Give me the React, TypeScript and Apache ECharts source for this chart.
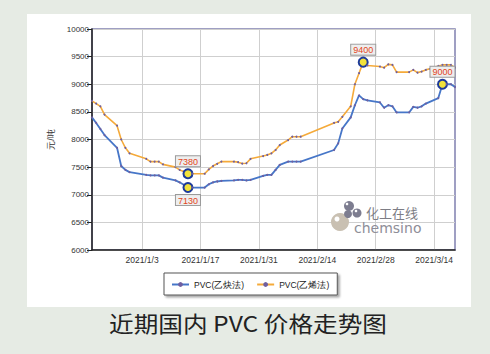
import React, { useEffect, useRef } from "react";
import * as echarts from "echarts";

const xTicks = ["2021/1/3", "2021/1/17", "2021/1/31", "2021/2/14", "2021/2/28", "2021/3/14"];
const firstDay = "2020/12/22";
const lastDay = "2021/3/19";

const acetyleneName = "PVC(乙炔法)";
const ethyleneName = "PVC(乙烯法)";

const acetyleneDates = [
  "2020/12/22", "2020/12/23", "2020/12/24", "2020/12/25", "2020/12/28", "2020/12/29", "2020/12/30", "2020/12/31",
  "2021/1/4", "2021/1/5", "2021/1/6", "2021/1/7", "2021/1/8", "2021/1/11", "2021/1/12", "2021/1/13", "2021/1/14",
  "2021/1/15", "2021/1/18", "2021/1/19", "2021/1/20", "2021/1/21", "2021/1/22", "2021/1/25", "2021/1/26",
  "2021/1/27", "2021/1/28", "2021/1/29", "2021/2/1", "2021/2/2", "2021/2/3", "2021/2/4", "2021/2/5", "2021/2/7",
  "2021/2/8", "2021/2/9", "2021/2/10", "2021/2/18", "2021/2/19", "2021/2/20", "2021/2/22", "2021/2/23",
  "2021/2/24", "2021/2/25", "2021/2/26", "2021/3/1", "2021/3/2", "2021/3/3", "2021/3/4", "2021/3/5", "2021/3/8",
  "2021/3/9", "2021/3/10", "2021/3/11", "2021/3/12", "2021/3/15", "2021/3/16", "2021/3/17", "2021/3/18", "2021/3/19",
];
const acetyleneValues = [
  8400, 8300, 8190, 8080, 7850, 7520, 7450, 7410,
  7360, 7350, 7350, 7350, 7310, 7260, 7225, 7180, 7130,
  7130, 7130, 7190, 7225, 7240, 7250, 7260, 7270,
  7270, 7260, 7270, 7340, 7360, 7360, 7450, 7540, 7600,
  7600, 7600, 7600, 7810, 7930, 8200, 8400, 8620,
  8800, 8730, 8710, 8670, 8575, 8620, 8600, 8490, 8490,
  8590, 8575, 8600, 8650, 8750, 9000, 9000, 9000, 8950,
];

const ethyleneDates = [
  "2020/12/22", "2020/12/23", "2020/12/24", "2020/12/25", "2020/12/28", "2020/12/29", "2020/12/30", "2020/12/31",
  "2021/1/4", "2021/1/5", "2021/1/6", "2021/1/7", "2021/1/8", "2021/1/11", "2021/1/12", "2021/1/13", "2021/1/14",
  "2021/1/15", "2021/1/18", "2021/1/19", "2021/1/20", "2021/1/21", "2021/1/22", "2021/1/25", "2021/1/26",
  "2021/1/27", "2021/1/28", "2021/1/29", "2021/2/1", "2021/2/2", "2021/2/3", "2021/2/4", "2021/2/5", "2021/2/7",
  "2021/2/8", "2021/2/9", "2021/2/10", "2021/2/18", "2021/2/19", "2021/2/20", "2021/2/22", "2021/2/23",
  "2021/2/24", "2021/2/25", "2021/2/26", "2021/3/1", "2021/3/2", "2021/3/3", "2021/3/4", "2021/3/5", "2021/3/8",
  "2021/3/9", "2021/3/10", "2021/3/11", "2021/3/12", "2021/3/13", "2021/3/15", "2021/3/16", "2021/3/17",
  "2021/3/18", "2021/3/19",
];
const ethyleneValues = [
  8700, 8650, 8600, 8450, 8250, 8000, 7850, 7750,
  7650, 7600, 7600, 7600, 7550, 7500, 7450, 7420, 7380,
  7380, 7380, 7460, 7520, 7560, 7600, 7600, 7590,
  7565, 7570, 7650, 7700, 7720, 7750, 7810, 7900, 7990,
  8050, 8050, 8050, 8300, 8320, 8410, 8600, 9000,
  9200, 9400, 9340, 9320, 9300, 9360, 9350, 9220, 9220,
  9260, 9210, 9230, 9260, 9280, 9330, 9350, 9350,
  9350, 9300,
];

const highlights = [
  { series: ethyleneName, date: "2021/1/14", pos: "top" },
  { series: acetyleneName, date: "2021/1/14", pos: "bottom" },
  { series: ethyleneName, date: "2021/2/25", pos: "top" },
  { series: acetyleneName, date: "2021/3/16", pos: "top" },
];

function buildCalendar(start: string, end: string): string[] {
  const [ys, ms, ds] = start.split("/").map(Number);
  const [ye, me, de] = end.split("/").map(Number);
  const out: string[] = [];
  let t = Date.UTC(ys, ms - 1, ds);
  const tEnd = Date.UTC(ye, me - 1, de);
  while (t <= tEnd) {
    const d = new Date(t);
    out.push(`${d.getUTCFullYear()}/${d.getUTCMonth() + 1}/${d.getUTCDate()}`);
    t += 86400000;
  }
  return out;
}

function buildData(name: string, dates: string[], values: number[]) {
  return dates.map((d, i) => {
    const hl = highlights.find((h) => h.series === name && h.date === d);
    if (!hl) return [d, values[i]];
    return {
      value: [d, values[i]],
      symbol: "circle",
      symbolSize: 9,
      itemStyle: { color: "#f2e23a", borderColor: "#1d3a9a", borderWidth: 2 },
      label: {
        show: true,
        position: hl.pos,
        distance: 2,
        formatter: String(values[i]),
        color: "#e2461c",
        fontSize: 9,
        fontFamily: "Liberation Sans, Arial, sans-serif",
        backgroundColor: "#eeeeee",
        borderColor: "#9a9a9a",
        borderWidth: 1,
        padding: [1, 2, 0, 2],
      },
    };
  });
}

export default function App() {
  const ref = useRef<HTMLDivElement>(null);
  useEffect(() => {
    if (!ref.current) return;
    const chart = echarts.init(ref.current, null, { renderer: "svg" });
    const days = buildCalendar(firstDay, lastDay);
    const isTick = (_i: number, v: string) => xTicks.includes(v);
    const font = "Liberation Sans, Arial, sans-serif";
    chart.setOption({
      animation: false,
      grid: {
        left: 92,
        top: 29,
        right: 35,
        bottom: 104,
        show: true,
        borderColor: "#8080b0",
        borderWidth: 1.5,
        backgroundColor: "transparent",
      },
      legend: {
        data: [acetyleneName, ethyleneName],
        left: 164,
        top: 273,
        itemWidth: 17,
        itemHeight: 6,
        itemGap: 12,
        padding: [7, 8, 6, 7],
        backgroundColor: "#ffffff",
        borderColor: "#555555",
        borderWidth: 1,
        shadowColor: "rgba(0,0,0,0.35)",
        shadowOffsetX: 2,
        shadowOffsetY: 2,
        shadowBlur: 2,
        textStyle: { fontSize: 8.5, color: "#222", fontFamily: font },
      },
      xAxis: {
        type: "category",
        data: days,
        boundaryGap: false,
        axisLine: { lineStyle: { color: "#222", width: 1.5 } },
        axisTick: { show: false, interval: isTick },
        axisLabel: {
          interval: isTick,
          fontSize: 8.5,
          color: "#333",
          margin: 5,
          fontFamily: font,
        },
        splitLine: { show: true, interval: isTick, lineStyle: { color: "#cfcfcf", width: 1 } },
      },
      yAxis: {
        type: "value",
        min: 6000,
        max: 10000,
        interval: 500,
        name: "元/吨",
        nameLocation: "middle",
        nameRotate: 90,
        nameGap: 36,
        nameTextStyle: { fontSize: 9, color: "#333" },
        axisLine: { show: true, lineStyle: { color: "#222", width: 1.5 } },
        axisTick: { show: true, length: 5, lineStyle: { color: "#222" } },
        axisLabel: {
          fontSize: 8,
          color: "#333",
          margin: 3,
          fontFamily: font,
          formatter: (v: number) => String(v),
        },
        splitLine: { lineStyle: { color: "#cfcfcf", width: 1 } },
      },
      graphic: [
        { type: "circle", z: 1, shape: { cx: 340, cy: 222, r: 9 }, style: { fill: "#c9c0b2" } },
        { type: "circle", z: 1, shape: { cx: 337, cy: 219, r: 2.5 }, style: { fill: "#ffffff" } },
        { type: "circle", z: 1, shape: { cx: 349, cy: 206, r: 5 }, style: { fill: "#7d7d90" } },
        { type: "circle", z: 1, shape: { cx: 348, cy: 214, r: 4 }, style: { fill: "#7d7d90" } },
        { type: "circle", z: 1, shape: { cx: 357, cy: 213, r: 4.5 }, style: { fill: "#7d7d90" } },
        { type: "circle", z: 1, shape: { cx: 347, cy: 204, r: 1.3 }, style: { fill: "#ffffff" } },
        { type: "circle", z: 1, shape: { cx: 356, cy: 211, r: 1.3 }, style: { fill: "#ffffff" } },
        {
          type: "text",
          z: 1,
          x: 366,
          y: 212,
          style: {
            text: "化工在线",
            fontSize: 13,
            fill: "#7d7d85",
            fontFamily: "Noto Sans CJK SC",
            verticalAlign: "middle",
            lineHeight: 13,
          },
        },
        {
          type: "text",
          z: 1,
          x: 354,
          y: 228,
          style: {
            text: "chemsino",
            fontSize: 14,
            fill: "#8e8e98",
            fontFamily: "DejaVu Sans",
            verticalAlign: "middle",
            lineHeight: 14,
          },
        },
        {
          type: "text",
          x: 248,
          y: 323,
          scaleX: 1.12,
          originX: 0,
          originY: 0,
          style: {
            text: "近期国内 PVC 价格走势图",
            fontSize: 22,
            fill: "#222",
            fontFamily: "Noto Sans CJK SC",
            align: "center",
            verticalAlign: "middle",
          },
        },
      ],
      series: [
        {
          name: acetyleneName,
          type: "line",
          data: buildData(acetyleneName, acetyleneDates, acetyleneValues),
          symbol: "circle",
          symbolSize: 2,
          showSymbol: true,
          itemStyle: { color: "#6f5fa0" },
          lineStyle: { color: "#4676c8", width: 1.8 },
          z: 3,
        },
        {
          name: ethyleneName,
          type: "line",
          data: buildData(ethyleneName, ethyleneDates, ethyleneValues),
          symbol: "circle",
          symbolSize: 2,
          showSymbol: true,
          itemStyle: { color: "#6f5fa0" },
          lineStyle: { color: "#f5aa3a", width: 1.6 },
          z: 3,
        },
      ],
    });
    return () => chart.dispose();
  }, []);

  return (
    <div style={{ position: "fixed", left: 0, top: 0, width: 490, height: 354, background: "#e6ebe4" }}>
      <div style={{ position: "absolute", left: 27, top: 14, width: 444, height: 293, background: "#ffffff" }} />
      <div ref={ref} style={{ position: "absolute", left: 0, top: 0, width: 490, height: 354 }} />
    </div>
  );
}
